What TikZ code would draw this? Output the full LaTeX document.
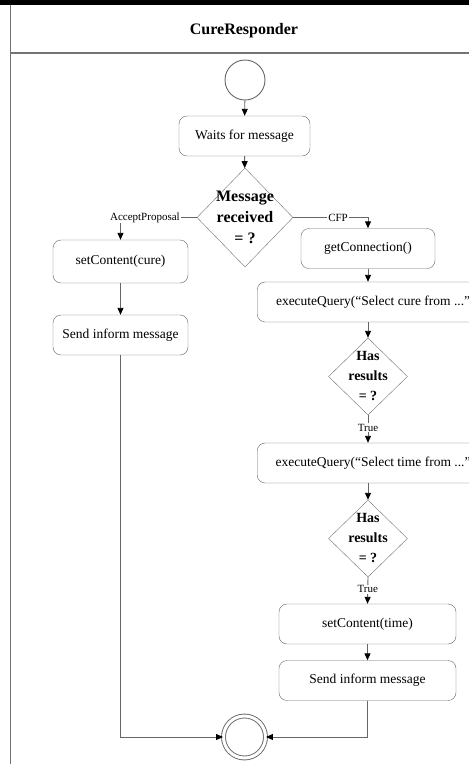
\documentclass[tikz,border=0pt]{standalone}
\usepackage{fontspec}
\setmainfont{Liberation Serif}
\usetikzlibrary{shapes.geometric,arrows.meta}
\tikzset{%
  act/.style={draw=black!60,rounded corners=8pt,minimum height=40pt,inner xsep=5pt,font=\fontsize{13.5}{16}\selectfont},
  dec/.style={draw=black!55,shape=diamond,inner sep=0pt},
  bigq/.style={font=\bfseries\fontsize{16}{21}\selectfont,align=center},
  smallq/.style={font=\bfseries\fontsize{14}{20}\selectfont,align=center},
  guard/.style={fill=white,inner sep=1pt,font=\fontsize{11}{13}\selectfont},
  flow/.style={draw=black!60,line width=0.9pt,-{Triangle[length=7pt,width=6pt,black]}},
  wire/.style={draw=black!60,line width=0.9pt}
}

\begin{document}
\begin{tikzpicture}[x=1pt,y=-1pt]
  \useasboundingbox (0,0) rectangle (469,764);
  \clip (0,0) rectangle (469,764);
  \fill[white] (0,0) rectangle (469,764);
  \fill[black] (0,0) rectangle (469,4.5);
  \draw[black!55,line width=1.2pt] (10.5,4.5) -- (10.5,764);
  \draw[black!55,line width=1.2pt] (10.5,53) -- (469,53);
  \node[font=\bfseries\fontsize{16}{19}\selectfont] (title) at (244,31) {CureResponder};

  \path
    (245,80) node (start)[draw=black!60,line width=0.9pt,shape=circle,minimum size=40pt]{}
    (244.5,136) node (waits)[act,minimum width=131pt]{Waits for message}
    (245,217.5) node (msg)[dec,minimum width=96pt,minimum height=99pt,
        label={[bigq]center:Message\\received\\= ?}]{}
    (120.5,261.5) node (setcure)[act,minimum width=135pt,minimum height=43pt]{setContent(cure)}
    (120.5,335) node (sendA)[act,minimum width=135pt]{Send inform message}
    (368,248.5) node (getconn)[act,minimum width=134pt]{getConnection()}
    (257,302) node (cureq)[act,anchor=west,minimum width=240pt,align=left]{executeQuery(“Select cure from ...”);}
    (368,376.5) node (hasA)[dec,minimum width=79pt,minimum height=77pt,
        label={[smallq]center:Has\\results\\= ?}]{}
    (257,463) node (timeq)[act,anchor=west,minimum width=240pt,align=left]{executeQuery(“Select time from ...”);}
    (368,538.5) node (hasB)[dec,minimum width=79pt,minimum height=77pt,
        label={[smallq]center:Has\\results\\= ?}]{}
    (367.5,624) node (settime)[act,minimum width=177pt]{setContent(time)}
    (367.5,680.5) node (sendB)[act,minimum width=177pt]{Send inform message}
    (244.5,737) node (fin)[draw=black!60,line width=0.9pt,shape=circle,minimum size=42pt,
        double distance=3pt,inner sep=0pt]{};

  \draw[flow] (start) -- (waits);
  \draw[flow] (waits) -- (msg);
  \draw[flow] (msg.west) -| node[guard,pos=0.34]{AcceptProposal} (setcure.north);
  \draw[flow] (setcure) -- (sendA);
  \draw[flow] (sendA.south) |- (fin.west);
  \draw[flow] (msg.east) -| node[guard,pos=0.3]{CFP} (getconn.north);
  \draw[flow] (getconn.south) -- (getconn.south |- cureq.north);
  \draw[flow] (hasA.north |- cureq.south) -- (hasA.north);
  \draw[flow] (hasA.south) -- node[guard,pos=0.45]{True} (hasA.south |- timeq.north);
  \draw[flow] (hasB.north |- timeq.south) -- (hasB.north);
  \draw[flow] (hasB.south) -- node[guard,pos=0.45]{True} (settime.north);
  \draw[flow] (settime) -- (sendB);
  \draw[flow] (sendB.south) |- (fin.east);
\end{tikzpicture}
\end{document}
